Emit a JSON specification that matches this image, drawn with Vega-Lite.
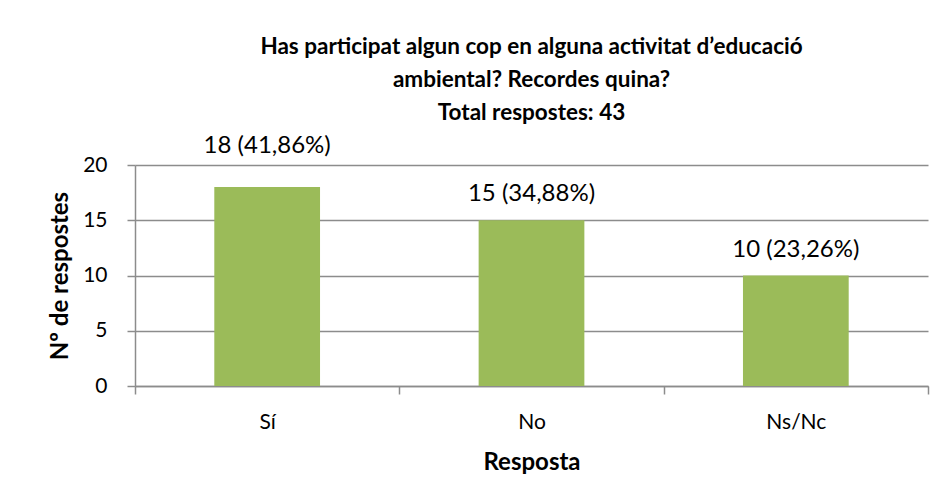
{
  "$schema": "https://vega.github.io/schema/vega-lite/v6.json",
  "autosize": "none",
  "width": 793,
  "height": 221,
  "padding": {"left": 135, "top": 165, "right": 16, "bottom": 118},
  "background": "white",
  "config": {
    "font": "Lato",
    "view": {"stroke": null},
    "axis": {
      "labelFont": "Lato",
      "titleFont": "Lato",
      "labelColor": "#000000",
      "titleColor": "#000000",
      "domainColor": "#8C8C8C",
      "tickColor": "#8C8C8C",
      "gridColor": "#8C8C8C",
      "domainWidth": 1.5,
      "tickWidth": 1.5,
      "gridWidth": 1.5
    }
  },
  "title": {
    "text": ["Has participat algun cop en alguna activitat d’educació", "ambiental? Recordes quina?", "Total respostes: 43"],
    "font": "Lato",
    "fontSize": 22.5,
    "fontWeight": "bold",
    "lineHeight": 33,
    "color": "#000000",
    "anchor": "middle",
    "frame": "group",
    "offset": 10
  },
  "data": {
    "values": [
      {"Resposta": "Sí", "n": 18, "label": "18 (41,86%)"},
      {"Resposta": "No", "n": 15, "label": "15 (34,88%)"},
      {"Resposta": "Ns/Nc", "n": 10, "label": "10 (23,26%)"}
    ]
  },
  "encoding": {
    "x": {
      "field": "Resposta",
      "type": "nominal",
      "sort": null,
      "scale": {"paddingInner": 0, "paddingOuter": 0},
      "axis": {
        "title": "Resposta",
        "labelAngle": 0,
        "labelFontSize": 21,
        "labelBaseline": "middle",
        "labelPadding": 28,
        "tickSize": 8,
        "tickBand": "extent",
        "grid": false,
        "titleFontSize": 24,
        "titleFontWeight": "bold",
        "titlePadding": 18
      }
    },
    "y": {
      "field": "n",
      "type": "quantitative",
      "scale": {"domain": [0, 20]},
      "axis": {
        "title": "Nº de respostes",
        "values": [0, 5, 10, 15, 20],
        "labelFontSize": 21,
        "labelPadding": 20,
        "tickSize": 8,
        "grid": true,
        "titleFontSize": 24,
        "titleFontWeight": "bold",
        "titlePadding": 10
      }
    }
  },
  "layer": [
    {"mark": {"type": "bar", "color": "#9BBB59", "width": {"band": 0.4}}},
    {
      "transform": [{"filter": "datum.Resposta === 'Sí'"}],
      "mark": {"type": "text", "fontSize": 24, "baseline": "middle", "dy": -41, "color": "#000000"},
      "encoding": {"text": {"field": "label"}}
    },
    {
      "transform": [{"filter": "datum.Resposta !== 'Sí'"}],
      "mark": {"type": "text", "fontSize": 24, "baseline": "middle", "dy": -26, "color": "#000000"},
      "encoding": {"text": {"field": "label"}}
    }
  ]
}
